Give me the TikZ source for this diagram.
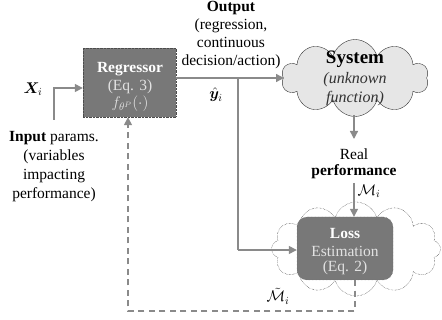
\RequirePackage{fix-cm}
\documentclass[tikz,border=0pt]{standalone}
\usepackage{fontspec}
\setmainfont{Liberation Serif}
\usepackage{bm}
\usetikzlibrary{shapes.symbols,arrows.meta,calc}
\definecolor{boxgray}{HTML}{787878}
\definecolor{linegray}{HTML}{8A8A8A}
\definecolor{cloudgray}{HTML}{E6E6E6}
\definecolor{lighttext}{HTML}{E2E2E2}
\tikzset{
  base/.style={font=\fontsize{15.5}{19}\selectfont},
  regbox/.style={draw=black!70, densely dotted, fill=boxgray, minimum width=93pt, minimum height=69pt, inner sep=0pt},
  lossbox/.style={draw=black!60, densely dotted, fill=boxgray, rounded corners=10pt, minimum width=96pt, minimum height=63pt, inner sep=0pt},
  syscloud/.style={cloud, cloud puffs=10, cloud ignores aspect, draw=black!80, thin, fill=cloudgray, minimum width=147pt, minimum height=77pt, inner sep=0pt},
  losscloud/.style={cloud, cloud puffs=12, cloud ignores aspect, draw=black, densely dotted, thin, fill=white, minimum width=169pt, minimum height=94pt, inner sep=0pt},
  conn/.style={draw=linegray, line width=1.4pt, -{Triangle[length=8pt,width=8pt]}},
  plainconn/.style={draw=linegray, line width=1.4pt},
  fbconn/.style={draw=linegray, line width=1.2pt, dash pattern=on 6pt off 4.5pt},
  lbl/.style={base, inner sep=0pt, align=center},
}
\begin{document}
\begin{tikzpicture}[x=1pt,y=-1pt]
\useasboundingbox (0,0) rectangle (442,320);
% shapes
\node[regbox] (reg) at (129.5,82.5) {};
\node[syscloud] (sys) at (355,78) {};
\node[losscloud] (lcloud) at (356,249) {};
\node[lossbox] (loss) at (345,248.5) {};
% texts in regressor
\node[lbl, text=white, font=\fontsize{15.5}{19}\selectfont\bfseries] (regt1) at (130,69) {Regressor};
\node[lbl, text=lighttext] (regt2) at (130,86.5) {(Eq. 3)};
\node[lbl, text=lighttext] (regt3) at (130,104) {$f_{\theta^{P}}(\cdot)$};
% system texts
\node[lbl, font=\fontsize{19}{22}\selectfont\bfseries] (syst1) at (355,59) {System};
\node[lbl, text=black!80, font=\fontsize{16}{19}\selectfont\itshape] (syst2) at (355,80) {(unknown};
\node[lbl, text=black!80, font=\fontsize{16}{19}\selectfont\itshape] (syst3) at (355,99) {function)};
% loss texts
\node[lbl, text=white, font=\fontsize{15.5}{19}\selectfont\bfseries] (losst1) at (345,234) {Loss};
\node[lbl, text=lighttext] (losst2) at (345,251) {Estimation};
\node[lbl, text=lighttext] (losst3) at (345,268) {(Eq. 2)};
% labels
\node[lbl] (xi) at (33,89) {$\bm{X}_i$};
\node[lbl] (input) at (54,167) {\textbf{Input} params.\\(variables\\impacting\\performance)};
\node[lbl, font=\fontsize{15.5}{17.8}\selectfont] (output) at (231,35) {\textbf{Output}\\(regression,\\continuous\\decision/action)};
\node[lbl] (yhat) at (216,95) {$\hat{\bm{y}}_i$};
\node[lbl, font=\fontsize{15.5}{16.5}\selectfont] (real) at (354,164) {Real\\\textbf{performance}};
\node[lbl] (mi) at (369,191) {$\mathcal{M}_i$};
\node[lbl] (mti) at (278,296) {$\tilde{\mathcal{M}}_i$};
% coordinates
\coordinate (inp) at (54,120);
\coordinate (inbend) at (54,88);
\coordinate (branch) at (238,78);
\coordinate (branchlow) at (238,250);
\coordinate (sysin) at (284,78);
\coordinate (sysout) at (354,115);
\coordinate (realtop) at (354,139);
\coordinate (mitop) at (354,183);
\coordinate (fb1) at (355,311);
\coordinate (fb2) at (128,311);
% connectors
\draw[conn] (inp) -- (inbend) -- (reg.west |- inbend);
\draw[conn] (reg.east |- branch) -- (sysin);
\draw[plainconn] (branch) -- (branchlow);
\draw[conn] (branchlow) -- (loss.west |- branchlow);
\draw[conn] (sysout) -- (realtop);
\draw[conn] (mitop) -- (loss.north -| mitop);
\draw[fbconn] (loss.south -| fb1) -- (fb1) -- (fb2) -- ($(reg.south -| fb2)+(0,8)$);
\draw[conn, dash pattern=on 6pt off 0pt] ($(reg.south -| fb2)+(0,9)$) -- (reg.south -| fb2);
\end{tikzpicture}
\end{document}
